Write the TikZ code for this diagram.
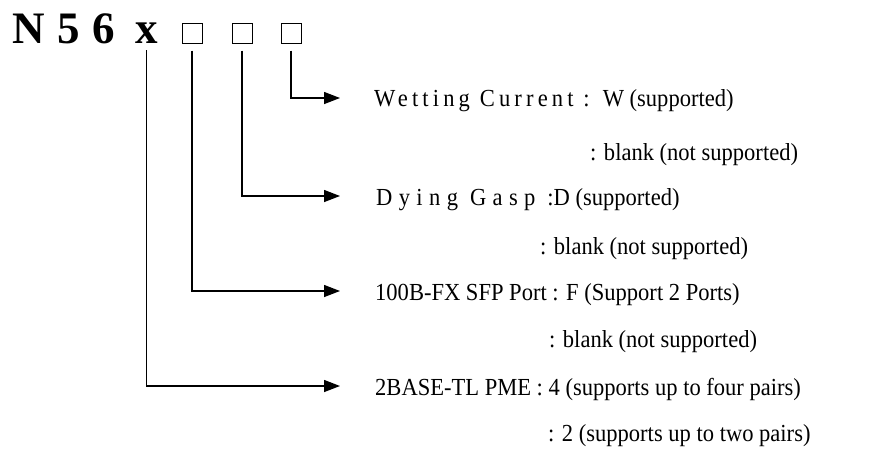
\documentclass[tikz,border=0pt]{standalone}
\usepackage{fontspec}
\setmainfont{Liberation Serif}
\newfontfamily\lbl[FakeStretch=0.92]{Liberation Serif}
\newfontfamily\spacedW[FakeStretch=0.92,LetterSpace=17]{Liberation Serif}
\newfontfamily\spacedD[FakeStretch=0.92,LetterSpace=26]{Liberation Serif}
\usetikzlibrary{arrows.meta}
\tikzset{
  title/.style={font=\bfseries\fontsize{45}{45}\selectfont, inner sep=0pt, anchor=base west},
  sqbox/.style={draw, line width=1pt, minimum size=20pt, inner sep=0pt},
  label/.style={font=\lbl\fontsize{24.5}{24.5}\selectfont, inner sep=0pt, anchor=base west},
  conn/.style={line width=1.4pt, shorten <=7pt, -{Triangle[length=16pt,width=12pt]}}
}
\begin{document}
\begin{tikzpicture}[x=1pt,y=-1pt]
\useasboundingbox (0,0) rectangle (883,450);
\node[title] (n56) at (12,43) {N\hspace{1.5pt} 5\hspace{1.5pt} 6};
\node[title] (xx) at (135,43) {x};
\node[sqbox] (sq1) at (192,33) {};
\node[sqbox] (sq2) at (242,33) {};
\node[sqbox] (sq3) at (291,33) {};
\coordinate (a1) at (340,98);
\coordinate (a2) at (340,196);
\coordinate (a3) at (340,291);
\coordinate (a4) at (340,386);
\node[label] (w1) at (374,106) {{\spacedW Wetting Current : }W (supported)};
\node[label] (b1) at (590,160) {: blank (not supported)};
\node[label] (d1) at (376,205) {{\spacedD Dying Gasp }:D (supported)};
\node[label] (b2) at (540,254) {: blank (not supported)};
\node[label] (f1) at (375,300) {100B-FX SFP Port : F (Support 2 Ports)};
\node[label] (b3) at (549,347) {: blank (not supported)};
\node[label] (t1) at (375,395) {2BASE-TL PME : 4 (supports up to four pairs)};
\node[label] (t2) at (548,441) {: 2 (supports up to two pairs)};
\draw[conn] (sq3.south) |- (a1);
\draw[conn] (sq2.south) |- (a2);
\draw[conn] (sq1.south) |- (a3);
\draw[conn] (xx.south) |- (a4);
\end{tikzpicture}
\end{document}
